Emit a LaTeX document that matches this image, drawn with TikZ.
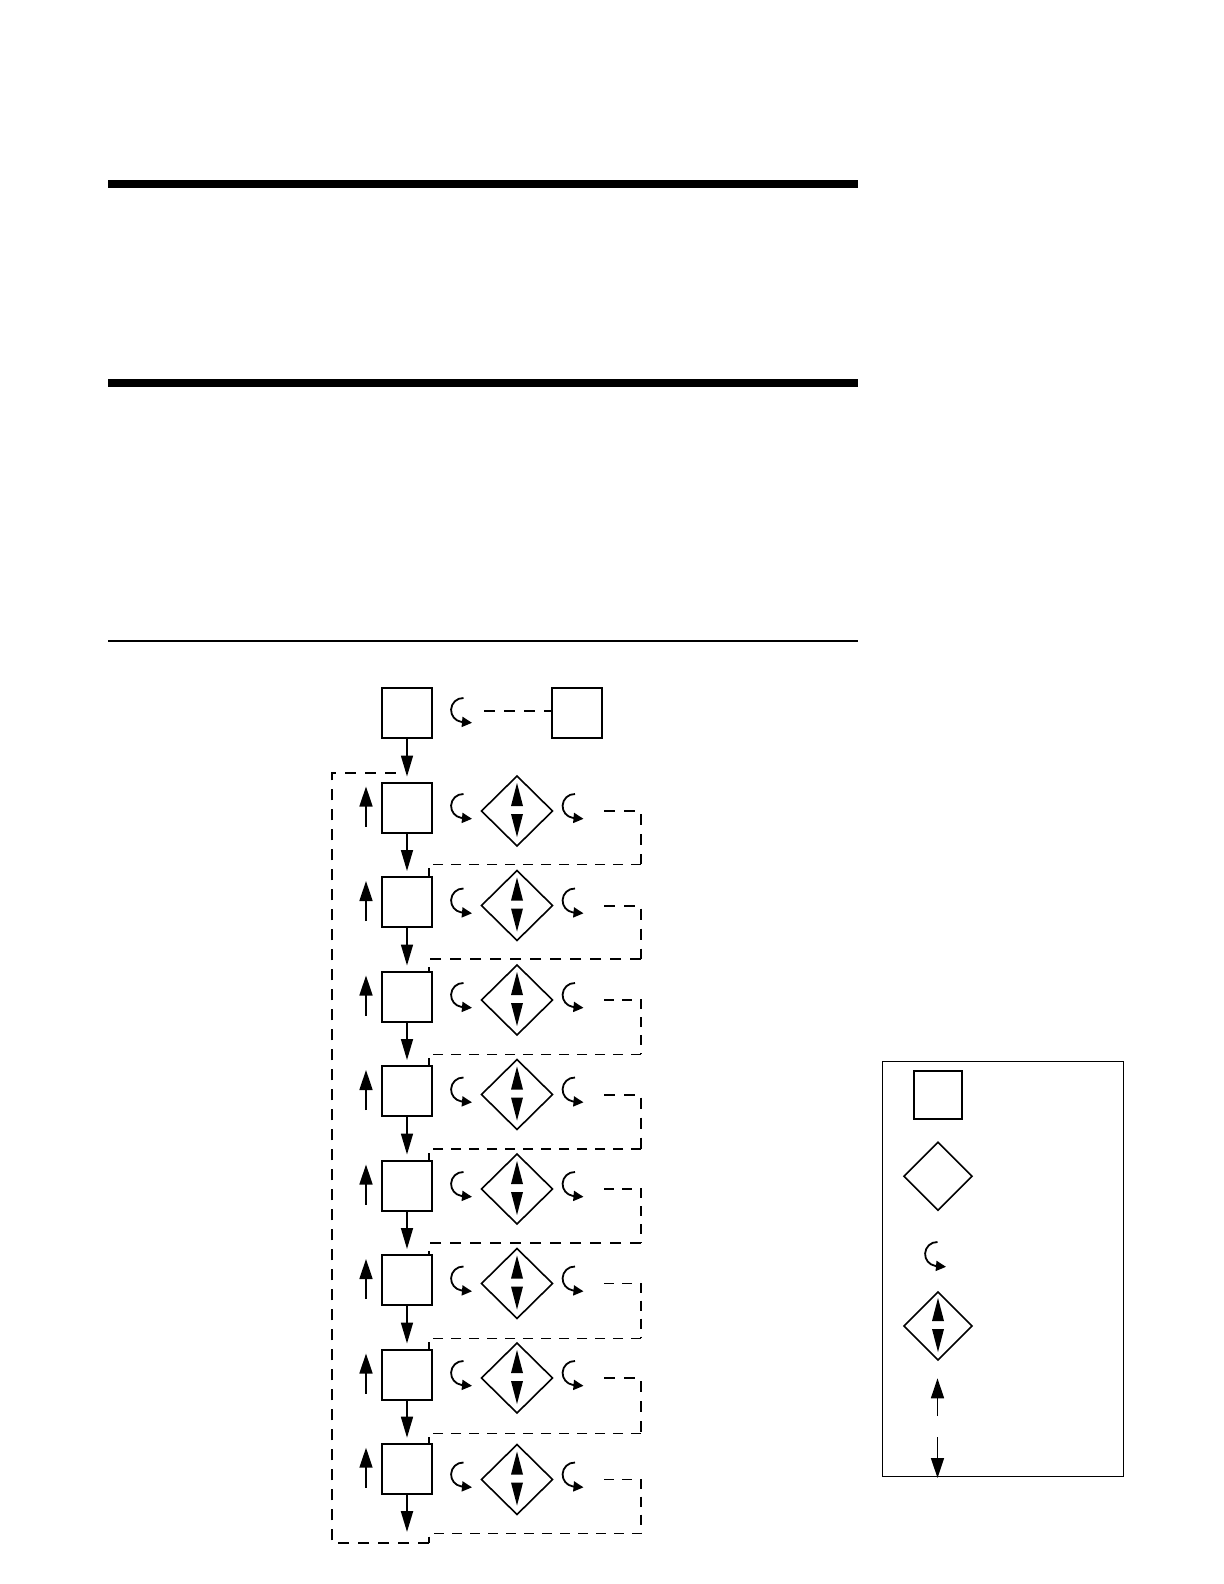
\documentclass[tikz,border=0pt]{standalone}
\usetikzlibrary{shapes.geometric,arrows.meta,calc}
\begin{document}
\begin{tikzpicture}[x=0.5pt,y=-0.5pt,
  box/.style={draw,line width=1pt,minimum size=25pt,inner sep=0pt,outer sep=0pt},
  dia/.style={draw,diamond,line width=0.8pt,minimum width=35.5pt,minimum height=35pt,inner sep=0pt,outer sep=0pt},
  flow/.style={line width=0.8pt,-{Triangle[length=10.5pt,width=6pt]}},
  upflow/.style={line width=0.8pt,-{Triangle[length=10pt,width=6.5pt]}},
  loopdash/.style={line width=1pt,dash pattern=on 5.5pt off 4.5pt},
  thindash/.style={line width=0.7pt,dash pattern=on 5pt off 4pt},
  curl/.pic={\draw[line width=0.9pt,-{Triangle[length=5pt,width=5pt]}] (0.5,-12) arc[start angle=272,end angle=100,radius=12] -- ++(11,1);},
  updown/.pic={\fill (-6,-5)--(6,-5)--(0,-28)--cycle; \fill (-6,3)--(6,3)--(0,26)--cycle;}
]
\useasboundingbox[fill=white] (0,0) rectangle (1224,1584);

% header rules
\fill (108,180.3) rectangle (857.7,187.7);
\fill (108,379) rectangle (857.7,387);
\draw[line width=1pt] (108,641) -- (857.7,641);

% top row
\node[box] (b0) at (407,712.7) {};
\node[box] (br) at (576.5,712.7) {};
\pic at (463,710) {curl};
\coordinate (t0) at (484,710.7);
\draw[loopdash] (t0) -- (t0 -| br.west);

% rows
\foreach \i/\yb/\ye in {1/807.5/811,2/902/905.5,3/996.5/1000,4/1091/1094.5,5/1185.5/1189,6/1280/1283.5,7/1374.5/1378,8/1468.7/1479.5}{
  \node[box] (b\i) at (407,\yb) {};
  \node[dia] (d\i) at (517,\ye) {};
  \pic at (d\i) {updown};
  \pic at (463,\ye-5) {curl};
  \pic at (574.5,\ye-5) {curl};
  \coordinate (ua\i) at (366,\yb+19);
  \coordinate (ub\i) at (366,\yb-21);
  \draw[upflow] (ua\i) -- (ub\i);
  \coordinate (r\i) at (604,\ye);
}

% downward flow
\draw[flow] (b0.south) -- ($(b1.north)+(0,-6)$);
\foreach \i/\j in {1/2,2/3,3/4,4/5,5/6,6/7,7/8}{
  \draw[flow] (b\i.south) -- ($(b\j.north)+(0,-6)$);
}
\coordinate (bend) at (407,1532);
\draw[flow,line width=1.1pt] (b8.south) -- (bend);

% return paths
\foreach \i/\j/\ret/\sa/\sb in {1/2/864.3/loopdash/thindash,2/3/959.3/loopdash/loopdash,3/4/1054.3/thindash/thindash,4/5/1149/loopdash/thindash,5/6/1243.3/thindash/loopdash,6/7/1338.3/thindash/thindash,7/8/1433.3/loopdash/thindash}{
  \coordinate (rc\i) at (641,\ret);
  \draw[\sa] (r\i) -| (rc\i);
  \draw[\sb] (rc\i) -| ([xshift=-1.5pt]b\j.north east);
}
\coordinate (loopend) at (396,773.3);
\draw[thindash] (r8) -| (641,1533.3) -| (429,1543.3);
\draw[loopdash] (429,1543.3) -- (332,1543.3) -- (332,773.3) -- (loopend);

% legend
\node[draw,line width=0.75pt,minimum width=120.5pt,minimum height=207.4pt,inner sep=0pt] (leg) at (1003,1268.9) {};
\node[box,minimum size=24pt] (lsq) at (937.5,1095.3) {};
\node[dia,minimum width=34pt,minimum height=34pt] (ldia) at (938,1176.3) {};
\pic at (937,1254) {curl};
\node[dia,minimum width=34pt,minimum height=34pt] (ldia2) at (938,1326) {};
\pic at (ldia2) {updown};
\coordinate (lua) at (937.5,1416);
\coordinate (lub) at (937.5,1378.3);
\draw[upflow] (lua) -- (lub);
\coordinate (lda) at (937.5,1437);
\coordinate (ldb) at (937.5,1478);
\draw[upflow] (lda) -- (ldb);
\end{tikzpicture}
\end{document}
